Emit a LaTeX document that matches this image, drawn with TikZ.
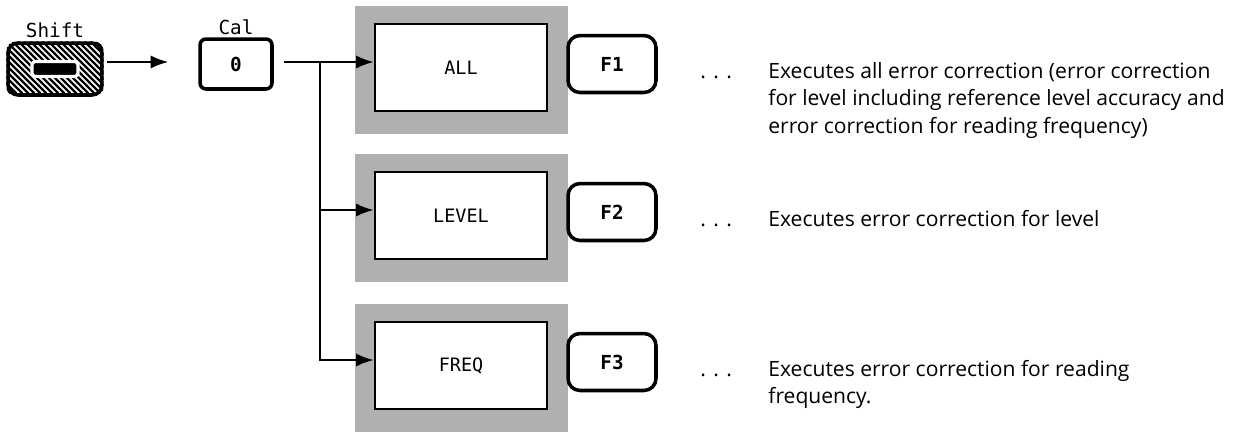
\documentclass[tikz,border=0pt]{standalone}
\usepackage{fontspec}
\setmainfont{Open Sans}
\setmonofont{DejaVu Sans Mono}
\usetikzlibrary{arrows.meta}
\usetikzlibrary{positioning}
\colorlet{panelgray}{gray!62}

\tikzset{
    keycap/.style={draw, line width=2pt, rounded corners=0.2cm, font=\ttfamily\bfseries\fontsize{11}{13}\selectfont},
    keyname/.style={inner sep=0pt, font=\ttfamily\fontsize{11}{13}\selectfont},
    panel/.style={fill=panelgray, minimum width=4.26cm, minimum height=2.56cm},
    menubox/.style={draw, fill=white, line width=1.6pt, minimum width=3.44cm, minimum height=1.74cm, font=\ttfamily\fontsize{10.5}{12}\selectfont},
    fkey/.style={keycap, rounded corners=0.24cm, minimum width=1.76cm, minimum height=1.14cm},
    desc/.style={inner sep=0pt, font=\fontsize{12}{15.6}\selectfont},
    flow/.style={line width=1.1pt, -{Latex[length=10pt,width=7.5pt]}},
}

\begin{document}
\begin{tikzpicture}[x=0.02cm,y=-0.02cm]
        \useasboundingbox (0,0) rectangle (1233,444);
        % keys
        \node (shift) [keycap, fill=white, minimum width=1.88cm, minimum height=1.04cm] at (55,69) {};
        \begin{scope}
            \clip[rounded corners=0.2cm] (shift.south west) rectangle (shift.north east);
            \foreach \k in {-60,-54,...,96}
            {
                \draw[line width=1.4pt] (shift.north west) ++(\k,0) -- ++(52,52);
            }
        \end{scope}
        \node (bar) [fill=black, draw=white, line width=1.8pt, rounded corners=2pt, minimum width=0.92cm, minimum height=0.3cm, inner sep=0pt] at (shift) {};
        \node (shiftname) [keyname, above=0.06cm of shift] {Shift};
        \node (cal) [keycap, rounded corners=0.12cm, minimum width=1.44cm, minimum height=1cm] at (236,64) {0};
        \node (calname) [keyname, above=0.05cm of cal] {Cal};
        \coordinate (split) at (320,62);
        \draw[flow, shorten <=0.06cm, shorten >=0.6cm] (shift.east |- split) -- (cal.west |- split);
        \draw[line width=1.1pt, shorten <=0.2cm] (cal.east |- split) -- (split);
        % ~~~~~~~~~~~~~~~~~
        \foreach \i/\y/\name/\fk/\txt in {A/62/ALL/F1/{Executes all error correction (error correction\\for level including reference level accuracy and\\error correction for reading frequency)},
                B/210/LEVEL/F2/{Executes error correction for level},
                C/360/FREQ/F3/{Executes error correction for reading\\frequency.}}
        {
            \node (panel\i) [panel] at (461.5,\y+8) {};
            \node (box\i) [menubox] at (461,\y+5.5) {\name};
            \node (key\i) [fkey] at (612,\y+2) {\fk};
            \node (dots\i) [desc, anchor=base west] at (700,\y+16.5) {.\hspace{0.35em}.\hspace{0.35em}.};
            \node (desc\i) [desc, anchor=base west] at (768,\y+16.5) {\begin{tabular}[t]{@{}l@{}}\txt\end{tabular}};
            \draw[flow] (split) |- ([yshift=0.11cm]box\i.west);
        }
    \end{tikzpicture}
\end{document}
